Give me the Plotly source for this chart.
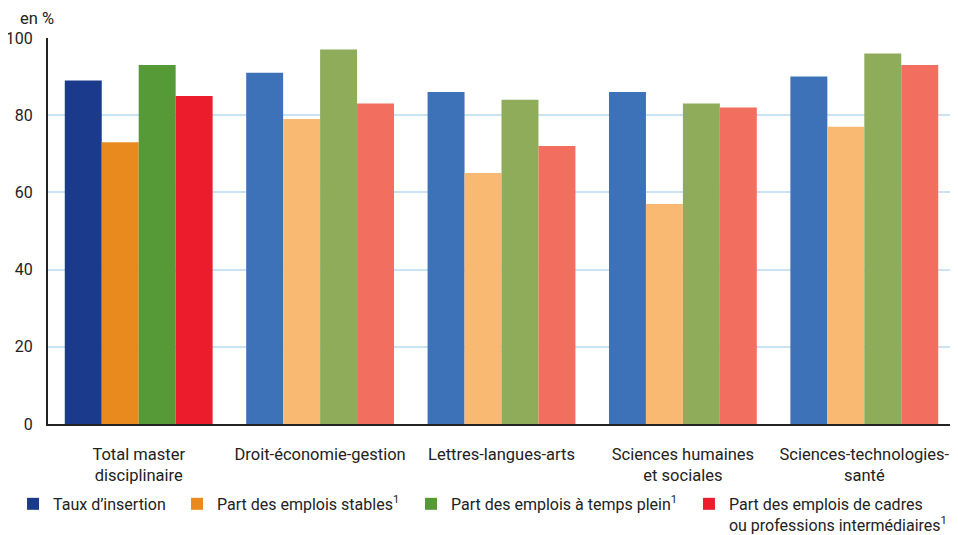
import plotly.graph_objects as go

categories = [
    "Total master<br>disciplinaire",
    "Droit-économie-gestion",
    "Lettres-langues-arts",
    "Sciences humaines<br>et sociales",
    "Sciences-technologies-<br>santé",
]

series_names = [
    "Taux d’insertion",
    "Part des emplois stables<sup>1</sup>",
    "Part des emplois à temps plein<sup>1</sup>",
    "Part des emplois de cadres<br>ou professions intermédiaires<sup>1</sup>",
]

taux_insertion = [89, 91, 86, 86, 90]
emplois_stables = [73, 79, 65, 57, 77]
temps_plein = [93, 97, 84, 83, 96]
cadres = [85, 83, 72, 82, 93]

# first group (total) in strong colours, disciplines in lighter ones
dark_colors = ["#1B3A8C", "#E98A1E", "#559A36", "#EC1C2D"]
light_colors = ["#3E72B8", "#FAB973", "#8FAC5B", "#F26F5F"]

FONT = "Roboto, Liberation Sans, sans-serif"
TEXT = "#222222"
SIZE = 16.5

# one legend per series so each entry sits where the reference puts it
legend_ids = ["legend", "legend2", "legend3", "legend4"]
legend_x = [0.0053, 0.1779, 0.4242, 0.7168]

fig = go.Figure()
for i, (name, vals) in enumerate(zip(series_names,
                                     [taux_insertion, emplois_stables, temps_plein, cadres])):
    colors = [dark_colors[i]] + [light_colors[i]] * (len(vals) - 1)
    fig.add_trace(go.Bar(
        x=categories,
        y=vals,
        name=name,
        legend=legend_ids[i],
        showlegend=True,
        marker=dict(color=colors, line=dict(width=0)),
        hovertemplate="%{x}<br>%{y}%<extra></extra>",
    ))

legends = {}
for lid, lx in zip(legend_ids, legend_x):
    legends[lid] = dict(
        orientation="h",
        xref="container",
        x=lx, xanchor="left",
        y=-0.163, yanchor="top",
        valign="top",
        itemwidth=30,
        bgcolor="rgba(0,0,0,0)",
        font=dict(family=FONT, size=16, color=TEXT),
    )

# the page adds an 8px body margin, so the figure is a little smaller than the window
fig.update_layout(
    width=950,
    height=527,
    showlegend=True,
    barmode="group",
    bargap=0.185,
    bargroupgap=0,
    paper_bgcolor="white",
    plot_bgcolor="white",
    font=dict(family=FONT, size=SIZE, color=TEXT),
    margin=dict(l=40, r=3, t=30, b=111, autoexpand=False),
    annotations=[dict(
        text="en %", xref="paper", yref="paper", x=-0.033, y=1.0,
        xanchor="left", yanchor="bottom", yshift=8, showarrow=False,
        font=dict(family=FONT, size=SIZE, color=TEXT),
    )],
    **legends,
)

fig.update_yaxes(
    range=[0, 100],
    dtick=20,
    showgrid=True,
    gridcolor="#C9E3F4",
    gridwidth=2,
    showline=True,
    linecolor="#222222",
    linewidth=2,
    zeroline=False,
    ticks="",
    ticklabelstandoff=10,
    tickfont=dict(family=FONT, size=16, color=TEXT),
)
fig.update_xaxes(
    showline=True,
    linecolor="#222222",
    linewidth=2,
    ticks="",
    ticklabelstandoff=14,
)

fig.write_html("out.html")
